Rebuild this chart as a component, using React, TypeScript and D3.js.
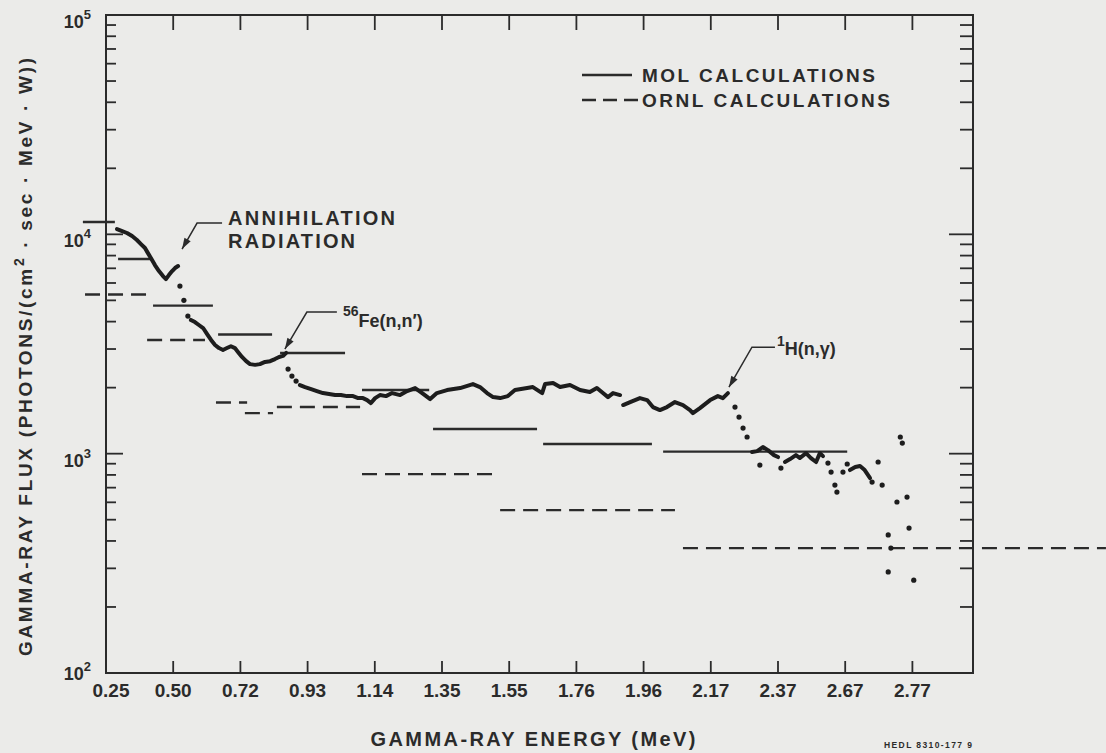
import React, { useRef, useEffect } from 'react';
import * as d3 from 'd3';

// x tick labels as printed on the axis (MeV)
const tickLabels = ['0.25', '0.50', '0.72', '0.93', '1.14', '1.35', '1.55', '1.76', '1.96', '2.17', '2.37', '2.67', '2.77'];
const yDecades = [100, 1000, 10000, 100000];

// MOL calculations: [from MeV, to MeV, flux]
const molSegments = [
  [0.164, 0.283, 11380],
  [0.295, 0.421, 7716],
  [0.425, 0.630, 4733],
  [0.647, 0.819, 3493],
  [0.844, 1.047, 2875],
  [1.100, 1.310, 1950],
  [1.322, 1.637, 1295],
  [1.656, 1.986, 1106],
  [2.021, 2.673, 1022],
];

// ORNL calculations: [from MeV, to MeV, flux]
const ornlSegments = [
  [0.172, 0.425, 5316],
  [0.403, 0.604, 3296],
  [0.640, 0.741, 1710],
  [0.734, 0.822, 1531],
  [0.834, 1.094, 1631],
  [1.100, 1.508, 807],
  [1.523, 2.058, 553],
  [2.083, 3.058, 371],
];

// measured spectrum, continuous stretches: [MeV, flux]
const measuredRuns = [
  [[0.291, 10570], [0.310, 10350], [0.328, 10140], [0.347, 9820], [0.365, 9420], [0.380, 9030], [0.395, 8660],
   [0.406, 8210], [0.417, 7800], [0.432, 7240], [0.447, 6800], [0.462, 6450], [0.473, 6250], [0.484, 6520],
   [0.496, 6800], [0.506, 7020], [0.516, 7170]],
  [[0.558, 4070], [0.571, 3980], [0.584, 3860], [0.598, 3740], [0.611, 3510], [0.624, 3300], [0.637, 3130],
   [0.650, 3030], [0.663, 2970], [0.676, 3030], [0.689, 3090], [0.702, 3030], [0.712, 2910], [0.725, 2760],
   [0.738, 2640], [0.750, 2560], [0.766, 2540], [0.781, 2560], [0.797, 2620], [0.813, 2640], [0.828, 2700],
   [0.841, 2760], [0.853, 2790], [0.863, 2880]],
  [[0.906, 2055], [0.922, 2012], [0.941, 1970], [0.959, 1929], [0.978, 1889], [0.997, 1869], [1.016, 1850],
   [1.034, 1850], [1.053, 1830], [1.072, 1830], [1.088, 1792], [1.103, 1792], [1.116, 1755], [1.128, 1701],
   [1.141, 1792], [1.156, 1850], [1.175, 1830], [1.194, 1889], [1.219, 1850], [1.241, 1929], [1.266, 1991],
   [1.288, 1889], [1.313, 1774], [1.334, 1889], [1.365, 1950], [1.404, 1991], [1.442, 2077], [1.463, 2012],
   [1.484, 1889], [1.502, 1811], [1.523, 1792], [1.546, 1830], [1.568, 1950], [1.606, 1991], [1.624, 2012],
   [1.653, 1889], [1.662, 2077], [1.687, 2099], [1.709, 2012], [1.740, 2055], [1.771, 1950], [1.800, 1909],
   [1.821, 1991], [1.839, 1889], [1.854, 1811], [1.869, 1889], [1.890, 1850]],
  [[1.899, 1666], [1.920, 1719], [1.949, 1792], [1.971, 1755], [1.989, 1631], [2.011, 1581], [2.033, 1631],
   [2.058, 1719], [2.083, 1666], [2.105, 1581], [2.114, 1531], [2.136, 1614], [2.168, 1755], [2.191, 1830],
   [2.206, 1792], [2.221, 1889]],
  [[2.293, 1017], [2.308, 1027], [2.325, 1072], [2.340, 1038], [2.358, 985], [2.370, 965]],
  [[2.401, 916], [2.424, 945], [2.450, 985], [2.468, 955], [2.495, 1006], [2.517, 955], [2.540, 916],
   [2.557, 1006], [2.571, 975]],
  [[2.677, 842], [2.685, 869], [2.692, 878], [2.699, 842], [2.707, 774]],
];

// measured spectrum, scattered single points: [MeV, flux]
const measuredDots = [
  [0.522, 5810], [0.535, 5000], [0.548, 4240],
  [0.869, 2431], [0.881, 2258], [0.894, 2143],
  [2.242, 1631], [2.254, 1469], [2.266, 1308], [2.278, 1191],
  [2.316, 887], [2.383, 860],
  [2.593, 906], [2.607, 824], [2.624, 719], [2.633, 668], [2.660, 824], [2.673, 897],
  [2.710, 742], [2.719, 916], [2.725, 719], [2.734, 426], [2.738, 371], [2.734, 289], [2.747, 602],
  [2.752, 1191], [2.755, 1118], [2.762, 634], [2.765, 458], [2.772, 265],
];

const annotationTargets = [[0.529, 8570], [0.859, 3000], [2.224, 2010]];

const legendItems = ['MOL CALCULATIONS', 'ORNL CALCULATIONS'];

const W = 1106;
const H = 753;
const frame = { left: 106, right: 973, top: 15, bottom: 673 };
const ink = '#2b2b2b';
const font = '"Liberation Sans", Arial, Helvetica, sans-serif';

const App = () => {
  const ref = useRef(null);

  useEffect(() => {
    const svg = d3.select(ref.current);
    svg.selectAll('*').remove();

    const tickValues = tickLabels.map(Number);
    const tickPos = d3.scalePoint().domain(tickLabels).range([frame.left, 912.4]);
    const x = d3.scaleLinear().domain(tickValues).range(tickLabels.map(d => tickPos(d)));
    const y = d3.scaleLog().domain([100, 100000]).range([frame.bottom, frame.top]);

    svg.append('rect').attr('width', W).attr('height', H).attr('fill', '#ebebe9');

    // frame
    svg.append('rect')
      .attr('x', frame.left).attr('y', frame.top)
      .attr('width', frame.right - frame.left).attr('height', frame.bottom - frame.top)
      .attr('fill', 'none').attr('stroke', ink).attr('stroke-width', 2);

    // x ticks, bottom and top
    const xt = svg.append('g').attr('stroke', ink).attr('stroke-width', 1.8);
    tickLabels.slice(1).forEach(t => {
      const px = tickPos(t);
      xt.append('line').attr('x1', px).attr('x2', px).attr('y1', frame.bottom).attr('y2', frame.bottom - 12);
      xt.append('line').attr('x1', px).attr('x2', px).attr('y1', frame.top).attr('y2', frame.top + 15);
    });
    svg.append('g').selectAll('text').data(tickLabels).join('text')
      .attr('x', d => tickPos(d) + (d === '0.25' ? 5 : 0))
      .attr('y', 697)
      .attr('text-anchor', 'middle')
      .attr('font-family', font).attr('font-weight', 700).attr('font-size', 19)
      .attr('fill', ink)
      .text(d => d);

    // log ticks, left and right
    const yt = svg.append('g').attr('stroke', ink).attr('stroke-width', 1.8);
    yDecades.slice(0, -1).forEach(dec => {
      d3.range(1, 10).forEach(k => {
        const v = dec * k;
        const py = y(v);
        if (k === 1 && dec === 100) return;
        const major = k === 1;
        yt.append('line').attr('x1', frame.left).attr('x2', frame.left + (major ? 17 : 10)).attr('y1', py).attr('y2', py);
        yt.append('line').attr('x1', frame.right).attr('x2', frame.right - (major ? 24 : 13)).attr('y1', py).attr('y2', py);
      });
    });

    const yl = svg.append('g').selectAll('text').data(yDecades).join('text')
      .attr('x', 91)
      .attr('y', d => y(d) + (d === 100 ? 7 : 13))
      .attr('text-anchor', 'end')
      .attr('font-family', font).attr('font-weight', 700).attr('font-size', 18)
      .attr('fill', ink);
    yl.append('tspan').text('10');
    yl.append('tspan').attr('dy', -9).attr('font-size', 13).text(d => String(Math.round(Math.log10(d))));

    // axis titles
    const yTitle = svg.append('text')
      .attr('transform', `translate(32,357) rotate(-90)`)
      .attr('text-anchor', 'middle')
      .attr('font-family', font).attr('font-weight', 700).attr('font-size', 19)
      .attr('fill', ink)
      .attr('textLength', 598).attr('lengthAdjust', 'spacing');
    yTitle.append('tspan').text('GAMMA-RAY FLUX (PHOTONS/(cm');
    yTitle.append('tspan').attr('dy', -8).attr('font-size', 14).text('2');
    yTitle.append('tspan').attr('dy', 8).text(' \u00b7 sec \u00b7 MeV \u00b7 W))');

    svg.append('text')
      .attr('x', 533).attr('y', 746)
      .attr('text-anchor', 'middle')
      .attr('font-family', font).attr('font-weight', 700).attr('font-size', 20)
      .attr('fill', ink)
      .attr('textLength', 325).attr('lengthAdjust', 'spacing')
      .text('GAMMA-RAY ENERGY (MeV)');

    svg.append('text')
      .attr('x', 884).attr('y', 748)
      .attr('font-family', font).attr('font-weight', 700).attr('font-size', 8.5)
      .attr('fill', ink)
      .attr('textLength', 88).attr('lengthAdjust', 'spacing')
      .text('HEDL 8310-177 9');

    // calculations
    svg.append('g').selectAll('line').data(molSegments).join('line')
      .attr('x1', d => x(d[0])).attr('x2', d => x(d[1]))
      .attr('y1', d => y(d[2])).attr('y2', d => y(d[2]))
      .attr('stroke', ink).attr('stroke-width', 2.4);

    svg.append('g').selectAll('line').data(ornlSegments).join('line')
      .attr('x1', d => x(d[0])).attr('x2', d => x(d[1]))
      .attr('y1', d => y(d[2])).attr('y2', d => y(d[2]))
      .attr('stroke', ink).attr('stroke-width', 2.4)
      .attr('stroke-dasharray', '15 8');

    // measured spectrum
    const trace = d3.line().x(d => x(d[0])).y(d => y(d[1]));
    svg.append('g').selectAll('path').data(measuredRuns).join('path')
      .attr('d', trace)
      .attr('fill', 'none').attr('stroke', '#1d1d1d')
      .attr('stroke-width', 4).attr('stroke-linejoin', 'round').attr('stroke-linecap', 'round');
    svg.append('g').selectAll('circle').data(measuredDots).join('circle')
      .attr('cx', d => x(d[0])).attr('cy', d => y(d[1])).attr('r', 2.6)
      .attr('fill', '#1d1d1d');

    // legend
    const lg = svg.append('g');
    lg.append('line').attr('x1', 582).attr('x2', 632).attr('y1', 75).attr('y2', 75)
      .attr('stroke', ink).attr('stroke-width', 2.4);
    lg.append('line').attr('x1', 582).attr('x2', 638).attr('y1', 100).attr('y2', 100)
      .attr('stroke', ink).attr('stroke-width', 2.4).attr('stroke-dasharray', '14 7');
    lg.selectAll('text').data(legendItems).join('text')
      .attr('x', 642).attr('y', (d, i) => 82 + i * 25)
      .attr('font-family', font).attr('font-weight', 700).attr('font-size', 19)
      .attr('fill', ink)
      .attr('textLength', (d, i) => (i === 0 ? 233 : 248)).attr('lengthAdjust', 'spacing')
      .text(d => d);

    // annotations with leader arrows
    const leaders = [
      { elbow: [15, -26], end: [40, -26], text: [46, -24] },
      { elbow: [22, -37], end: [52, -37], text: [58, -22] },
      { elbow: [23, -40], end: [46, -40], text: [48, -32] },
    ];
    annotationTargets.forEach((t, i) => {
      const tx = x(t[0]);
      const ty = y(t[1]);
      const L = leaders[i];
      const g = svg.append('g');
      g.append('path')
        .attr('d', `M${tx},${ty}L${tx + L.elbow[0]},${ty + L.elbow[1]}L${tx + L.end[0]},${ty + L.end[1]}`)
        .attr('fill', 'none').attr('stroke', ink).attr('stroke-width', 1.5);
      const ang = Math.atan2(L.elbow[1], L.elbow[0]);
      const len = 11;
      const hw = 3.6;
      const bx = tx + Math.cos(ang) * len;
      const by = ty + Math.sin(ang) * len;
      const nx = -Math.sin(ang) * hw;
      const ny = Math.cos(ang) * hw;
      g.append('path')
        .attr('d', `M${tx},${ty}L${bx + nx},${by + ny}L${bx - nx},${by - ny}Z`)
        .attr('fill', ink);

      const label = g.append('text')
        .attr('x', tx + L.text[0]).attr('y', ty + L.text[1])
        .attr('font-family', font).attr('font-weight', 700).attr('font-size', 20)
        .attr('fill', ink);
      if (i === 0) {
        label.attr('textLength', 167).attr('lengthAdjust', 'spacing').text('ANNIHILATION');
        g.append('text')
          .attr('x', tx + L.text[0]).attr('y', ty + L.text[1] + 23)
          .attr('font-family', font).attr('font-weight', 700).attr('font-size', 20)
          .attr('fill', ink)
          .attr('textLength', 127).attr('lengthAdjust', 'spacing')
          .text('RADIATION');
      } else if (i === 1) {
        label.append('tspan').attr('font-size', 14).attr('dy', -11).text('56');
        label.append('tspan').attr('font-size', 18).attr('dy', 11).text('Fe(n,n\u2032)');
      } else {
        label.append('tspan').attr('font-size', 14).attr('dy', -9).text('1');
        label.append('tspan').attr('font-size', 18).attr('dy', 9).text('H(n,\u03b3)');
      }
    });
  }, []);

  return (
    <svg ref={ref} width={W} height={H} style={{ position: 'absolute', left: 0, top: 0, display: 'block' }} />
  );
};

export default App;
